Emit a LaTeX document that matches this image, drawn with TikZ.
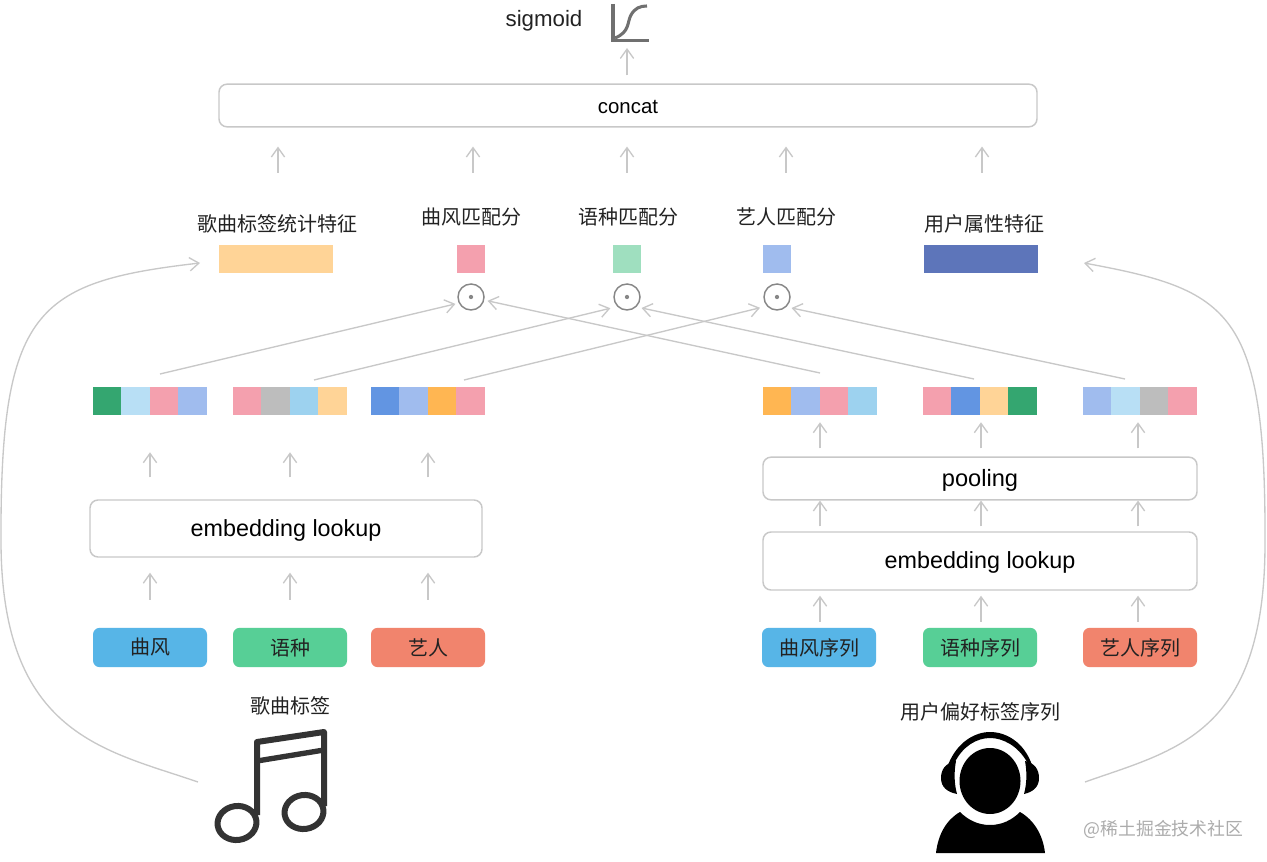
\documentclass[tikz,border=0pt]{standalone}
\usepackage{fontspec}
\setmainfont{Liberation Sans}
\newfontfamily\cjk{Noto Sans CJK SC}
\usetikzlibrary{arrows.meta, positioning, calc}
\definecolor{linegray}{RGB}{200,200,200}
\definecolor{inkdark}{RGB}{34,34,34}
\definecolor{axisgray}{RGB}{112,112,112}
\definecolor{dotgray}{RGB}{135,135,135}
\definecolor{cgreen}{RGB}{52,166,112}
\definecolor{cice}{RGB}{184,223,245}
\definecolor{cpink}{RGB}{244,160,174}
\definecolor{cperi}{RGB}{160,188,238}
\definecolor{cgray}{RGB}{189,189,189}
\definecolor{csky}{RGB}{157,210,239}
\definecolor{cyellow}{RGB}{255,212,151}
\definecolor{croyal}{RGB}{98,149,226}
\definecolor{corange}{RGB}{255,182,82}
\definecolor{cmint}{RGB}{159,223,191}
\definecolor{cindigo}{RGB}{93,117,186}
\definecolor{tagblue}{RGB}{87,181,231}
\definecolor{taggreen}{RGB}{87,207,150}
\definecolor{tagred}{RGB}{241,132,109}
\tikzset{
  arr/.style={draw=linegray, line width=1pt, -{Straight Barb[length=7pt,width=10pt]}},
  bigbox/.style={draw=linegray, line width=1.1pt, fill=white, rounded corners=6pt, inner sep=0pt, text=black},
  tagbox/.style={rounded corners=5pt, minimum width=85.5pt, minimum height=29.5pt, inner sep=0pt, text=inkdark, font=\cjk\fontsize{15}{18}\selectfont},
  cell/.style={minimum width=21.4pt, minimum height=21pt, inner sep=0pt},
  cnlabel/.style={inner sep=0pt, text=inkdark, font=\cjk\fontsize{15}{18}\selectfont},
  dotnode/.style={circle, draw=dotgray, line width=1.1pt, minimum size=19.5pt, inner sep=0pt, outer sep=3pt},
}
\begin{document}
\begin{tikzpicture}[x=0.75pt, y=-0.75pt]
  \useasboundingbox (0,0) rectangle (1267,862);
  \fill[white] (0,0) rectangle (1267,862);

  % top of the picture
  \node[inner sep=0pt, text=inkdark, font=\fontsize{16.7}{20}\selectfont] (sigmoidlabel) at (544,20.5) {sigmoid};
  \node[bigbox, minimum width=613.5pt, minimum height=32pt, text height=12.6pt, text depth=0pt, font=\fontsize{15.3}{18}\selectfont] (concat) at (628,105.5) {concat};
  \coordinate (sigmoidin) at (627,48);
  \draw[arr, shorten <=6pt] (sigmoidin |- concat.north) -- (sigmoidin);
  \draw[axisgray, line width=2.6pt] (613,4) -- (613,40.5) -- (649,40.5);
  \draw[axisgray, line width=2.3pt] (615,38) .. controls (630,32) and (627,22) .. (631,15) .. controls (635,8) and (640,6) .. (647,6);

  % scores
  \node[cell, minimum width=85.5pt, fill=cyellow] (statbar) at (276,259) {};
  \node[cell, fill=cpink] (scoreA) at (471,259) {};
  \node[cell, fill=cmint] (scoreB) at (627,259) {};
  \node[cell, fill=cperi] (scoreC) at (777,259) {};
  \node[cell, minimum width=85.5pt, fill=cindigo] (userbar) at (981,259) {};
  \node[cnlabel] (statlabel) at (277.5,224) {歌曲标签统计特征};
  \node[cnlabel] (scorelabelA) at (471,217) {曲风匹配分};
  \node[cnlabel] (scorelabelB) at (628,217) {语种匹配分};
  \node[cnlabel] (scorelabelC) at (786,217) {艺人匹配分};
  \node[cnlabel] (userlabel) at (984.5,224) {用户属性特征};
  \foreach \n/\x in {stat/278, A/473, B/627, C/786, user/982} {
    \coordinate (up\n) at (\x,173);
    \draw[arr, shorten >=14.25pt] (up\n) -- (up\n |- concat.south);
  }

  \foreach \n/\x in {A/471, B/627, C/777} {
    \node[dotnode] (dot\n) at (\x,297) {};
    \fill[dotgray] (dot\n.center) circle (1.6pt);
  }

  % embedding rows
  \foreach \n/\x/\a/\b/\c/\d in {
      rowA/150/cgreen/cice/cpink/cperi, rowB/290/cpink/cgray/csky/cyellow,
      rowC/428/croyal/cperi/corange/cpink, rowD/820/corange/cperi/cpink/csky,
      rowE/980/cpink/croyal/cyellow/cgreen, rowF/1140/cperi/cice/cgray/cpink} {
    \foreach \col [count=\i] in {\a,\b,\c,\d} {
      \node[cell, fill=\col] (\n\i) at (\x-71.25+\i*28.5,401) {};
    }
  }
  \foreach \n/\x in {A/150, B/290, C/428, D/820, E/981, F/1138} {
    \coordinate (col\n) at (\x,0);
  }

  % left side
  \node[bigbox, minimum width=294pt, minimum height=42.75pt, text depth=0.7pt, font=\fontsize{17.5}{21}\selectfont] (emblookL) at (286,528.5) {embedding lookup};
  \node[tagbox, fill=tagblue] (tagA) at (150,647.5) {曲风};
  \node[tagbox, fill=taggreen] (tagB) at (290,647.5) {语种};
  \node[tagbox, fill=tagred] (tagC) at (428,647.5) {艺人};
  \foreach \n in {A,B,C} {
    \draw[arr, shorten <=21pt, shorten >=11.25pt] (col\n |- tag\n.north) -- (col\n |- emblookL.south);
    \draw[arr, shorten <=16.5pt, shorten >=27.75pt] (col\n |- emblookL.north) -- (col\n |- row\n1.south);
  }

  % right side
  \node[bigbox, minimum width=325.5pt, minimum height=32pt, text depth=0.7pt, font=\fontsize{17.7}{21}\selectfont] (pooling) at (980,478.5) {pooling};
  \node[bigbox, minimum width=325.5pt, minimum height=43.5pt, text depth=0.7pt, font=\fontsize{17.5}{21}\selectfont] (emblookR) at (980,561) {embedding lookup};
  \node[tagbox, fill=tagblue] (tagD) at (819,647.5) {曲风序列};
  \node[tagbox, fill=taggreen] (tagE) at (980,647.5) {语种序列};
  \node[tagbox, fill=tagred] (tagF) at (1140,647.5) {艺人序列};
  \foreach \n in {D,E,F} {
    \draw[arr, shorten <=4.5pt, shorten >=3.75pt] (col\n |- tag\n.north) -- (col\n |- emblookR.south);
    \draw[arr, shorten <=3.75pt] (col\n |- emblookR.north) -- (col\n |- pooling.south);
    \draw[arr, shorten <=6pt, shorten >=5.25pt] (col\n |- pooling.north) -- (col\n |- row\n1.south);
  }

  % into the dots
  \coordinate (fromA) at (160,374);
  \coordinate (fromB) at (314,380);
  \coordinate (fromC) at (464,380);
  \coordinate (fromD) at (820,373);
  \coordinate (fromE) at (974,379);
  \coordinate (fromF) at (1125,379);
  \draw[arr] (fromA) -- (dotA.204);
  \draw[arr, shorten >=2.5pt] (fromB) -- (dotB.218);
  \draw[arr, shorten >=2.5pt] (fromC) -- (dotC.216);
  \draw[arr] (fromD) -- (dotA.-13);
  \draw[arr, shorten >=1pt] (fromE) -- (dotB.-39);
  \draw[arr, shorten >=1pt] (fromF) -- (dotC.-39);

  % long curves
  \coordinate (noteout) at (198,782);
  \coordinate (statin) at (200,263);
  \coordinate (userout) at (1085,782);
  \coordinate (userin) at (1084,263);
  \draw[arr] (noteout) .. controls (105,750) and (2,735) .. (1,543) .. controls (0,310) and (35,282) .. (statin);
  \draw[arr] (userout) .. controls (1175,750) and (1265,735) .. (1265,543) .. controls (1266,310) and (1230,290) .. (userin);

  % song tags
  \node[cnlabel] (notelabel) at (290,705.5) {歌曲标签};
  \begin{scope}[draw=black!80, line width=4.5pt, line join=round]
    \draw (257,815) -- (257,742) -- (324,732) -- (324,806);
    \draw[line width=4pt] (257,761) -- (324,750);
    \draw[rotate around={8:(237,823)}] (237,823) ellipse (19.5 and 17);
    \draw[rotate around={8:(304,812)}] (304,812) ellipse (19.5 and 17);
  \end{scope}

  % listener
  \node[cnlabel] (listenerlabel) at (980,711.5) {用户偏好标签序列};
  \fill[black] (990,781) ellipse (30.5 and 33);
  \fill[black] (948,765) .. controls (957,742) and (975,732) .. (990,732) .. controls (1006,732) and (1024,742) .. (1032,765)
    -- (1027,762) .. controls (1018,746) and (1003,738) .. (990,738) .. controls (977,738) and (963,746) .. (955,762) -- cycle;
  \fill[black] (956,761) .. controls (945,763) and (941,770) .. (941,778) .. controls (941,787) and (947,792) .. (957,794) .. controls (954,783) and (954,772) .. (956,761) -- cycle;
  \fill[black] (1025,761) .. controls (1035,763) and (1039,770) .. (1039,778) .. controls (1039,787) and (1033,792) .. (1024,794) .. controls (1027,783) and (1027,772) .. (1025,761) -- cycle;
  \fill[black] (936,853) .. controls (938,835) and (946,820) .. (960,812) .. controls (968,820) and (978,825) .. (990,825)
    .. controls (1002,825) and (1012,820) .. (1020,812) .. controls (1034,820) and (1043,835) .. (1045,853) -- cycle;

  \node[inner sep=0pt, text=gray!65, font=\cjk\fontsize{13.4}{16}\selectfont] (watermark) at (1163.5,829) {@稀土掘金技术社区};
\end{tikzpicture}
\end{document}
